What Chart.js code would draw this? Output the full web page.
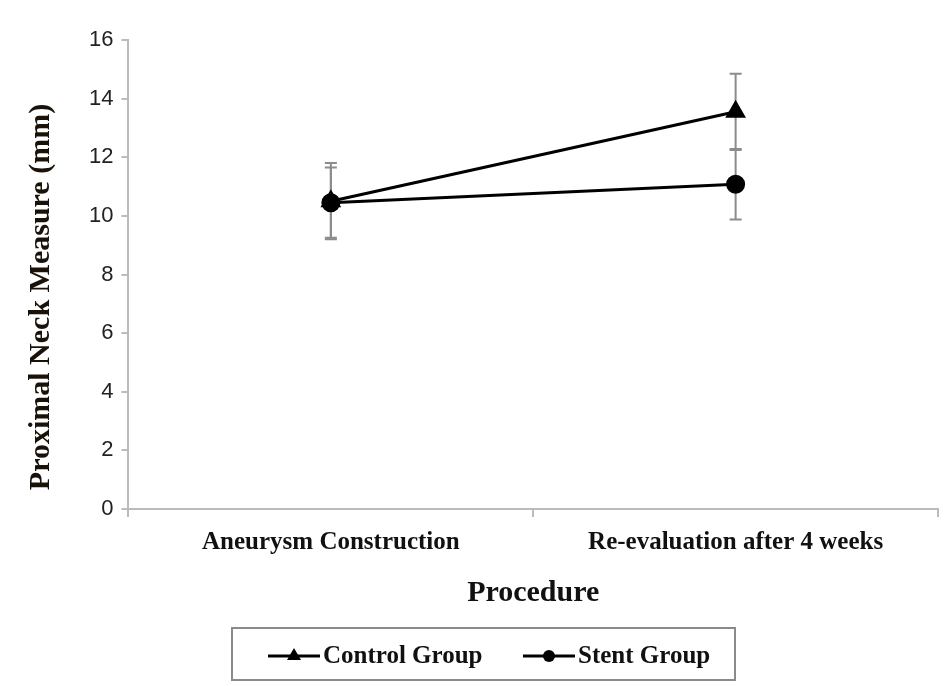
<!DOCTYPE html>
<html>
<head>
<meta charset="utf-8">
<script src="https://cdn.jsdelivr.net/npm/chart.js@4"></script>
<style>
  html, body { margin:0; padding:0; background:#fff; }
  #wrap { position:relative; width:950px; height:686px; }
</style>
</head>
<body>
<div id="wrap"><canvas id="c"></canvas></div>
<script>
const kategori = ['Aneurysm Construction', 'Re-evaluation after 4 weeks']
const kontrol = [10.5, 13.55]
const kontrolSd = [1.3, 1.3]
const stent = [10.45, 11.08]
const stentSd = [1.2, 1.2]
const yTicks = [0, 2, 4, 6, 8, 10, 12, 14, 16]
const yJudul = 'Proximal Neck Measure (mm)'

const serif = '"Liberation Serif", "Times New Roman", serif'

// error bars, drawn behind the lines
const errBar = {
	id: 'errBar',
	beforeDatasetsDraw: ch => {
		const c = ch.ctx, y = ch.scales.y
		c.save()
		c.strokeStyle = '#8c8c8c'
		c.lineWidth = 2
		ch.data.datasets.forEach((d, i) => {
			const meta = ch.getDatasetMeta(i)
			meta.data.forEach((p, j) => {
				const hi = y.getPixelForValue(d.data[j] + d.sd[j])
				const lo = y.getPixelForValue(d.data[j] - d.sd[j])
				c.beginPath()
				c.moveTo(p.x, hi); c.lineTo(p.x, lo)
				c.moveTo(p.x - 6, hi); c.lineTo(p.x + 6, hi)
				c.moveTo(p.x - 6, lo); c.lineTo(p.x + 6, lo)
				c.stroke()
			})
		})
		c.restore()
	}
}

// y title sits a bit lower than centre in the original, so draw it by hand
const yTitle = {
	id: 'yTitle',
	afterDraw: ch => {
		const c = ch.ctx
		c.save()
		c.translate(41, 297)
		c.rotate(-Math.PI / 2)
		c.fillStyle = '#1a1208'
		c.font = 'bold 30px ' + serif
		c.textAlign = 'center'
		c.textBaseline = 'middle'
		c.fillText(yJudul, 0, 0)
		c.restore()
	}
}

// boxed legend under the axis title
const legendBox = {
	id: 'legendBox',
	afterDraw: ch => {
		const c = ch.ctx
		c.save()
		c.strokeStyle = '#8a8a8a'
		c.lineWidth = 2
		c.strokeRect(232, 628, 503, 52)
		const item = (x, label, marker) => {
			const yy = 656
			c.strokeStyle = '#000'; c.fillStyle = '#000'; c.lineWidth = 3
			c.beginPath(); c.moveTo(x, yy); c.lineTo(x + 52, yy); c.stroke()
			c.beginPath()
			if (marker == 'tri') { c.moveTo(x + 26, yy - 8); c.lineTo(x + 33, yy + 4); c.lineTo(x + 19, yy + 4); c.closePath() }
			else c.arc(x + 26, yy, 6, 0, Math.PI * 2)
			c.fill()
			c.fillStyle = '#111'
			c.font = 'bold 25px ' + serif
			c.textBaseline = 'middle'
			c.fillText(label, x + 55, yy + 1)
		}
		item(268, 'Control Group', 'tri')
		item(523, 'Stent Group', 'dot')
		c.restore()
	}
}

new Chart(document.getElementById('c'), {
	type: 'line',
	data: {
		labels: kategori,
		datasets: [{
			label: 'Control Group',
			data: kontrol,
			sd: kontrolSd,
			borderColor: '#000',
			backgroundColor: '#000',
			borderWidth: 3,
			pointStyle: 'triangle',
			pointRadius: 9,
			tension: 0,
		}, {
			label: 'Stent Group',
			data: stent,
			sd: stentSd,
			borderColor: '#000',
			backgroundColor: '#000',
			borderWidth: 3,
			pointStyle: 'circle',
			pointRadius: 8,
			tension: 0,
		}]
	},
	options: {
		responsive: true,
		maintainAspectRatio: false,
		animation: false,
		layout: { padding: { top: 40, right: 6, bottom: 75, left: 81 } },
		plugins: {
			legend: { display: false },
			tooltip: { enabled: false },
		},
		scales: {
			x: {
				offset: true,
				border: { color: '#bbb', width: 2 },
				grid: { display: true, drawOnChartArea: false, offset: true, tickLength: 8, color: '#bbb', lineWidth: 2 },
				ticks: { color: '#111', font: { family: serif, size: 25, weight: 'bold' }, padding: 11 },
				title: { display: true, text: 'Procedure', color: '#111', font: { family: serif, size: 30, weight: 'bold' }, padding: { top: 6, bottom: 0 } }
			},
			y: {
				min: 0,
				max: 16,
				afterBuildTicks: s => { s.ticks = yTicks.map(v => ({ value: v })) },
				border: { color: '#bbb', width: 2 },
				grid: { display: true, drawOnChartArea: false, tickLength: 7, color: '#bbb', lineWidth: 2 },
				ticks: { color: '#222', font: { family: '"Liberation Sans", Arial, sans-serif', size: 22 }, padding: 8 },
				title: { display: false }
			}
		}
	},
	plugins: [errBar, yTitle, legendBox]
})
</script>
</body>
</html>
